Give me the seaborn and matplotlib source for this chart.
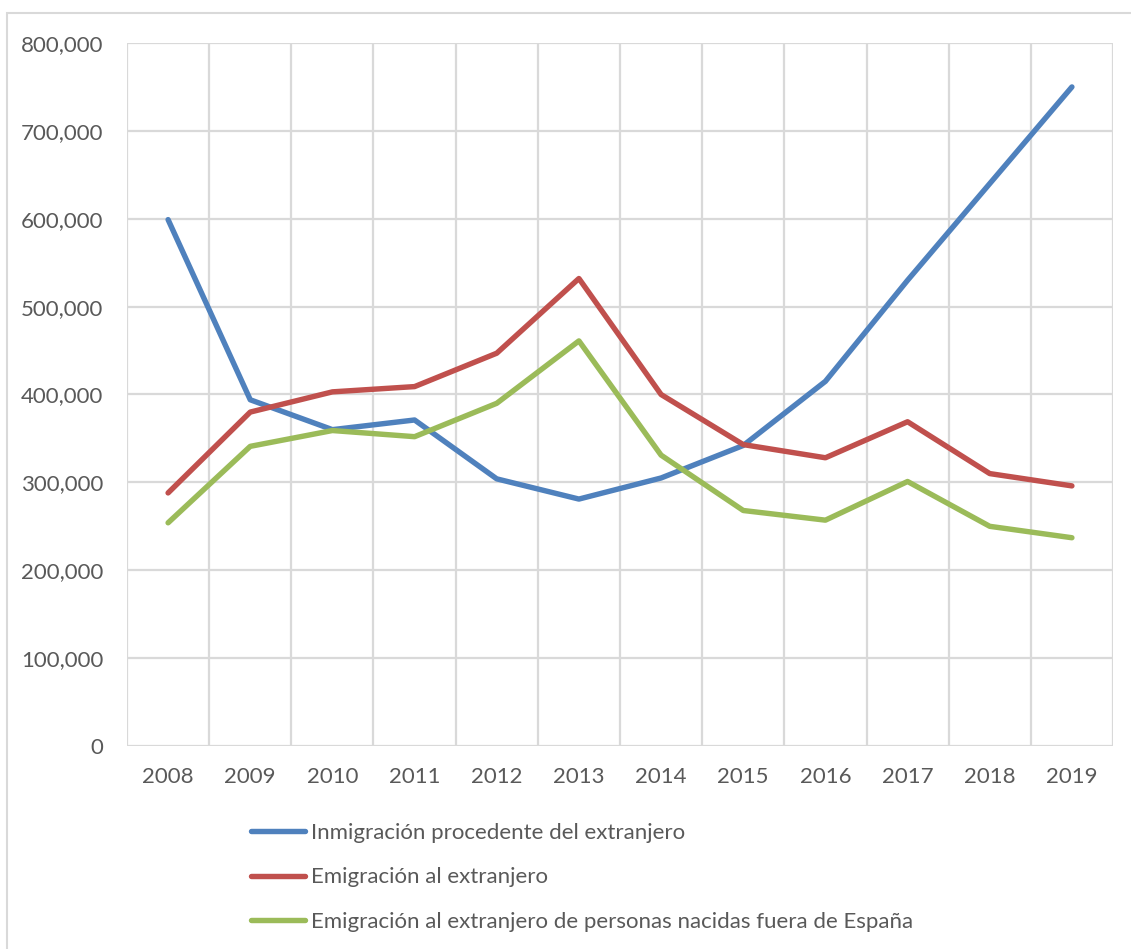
import matplotlib
matplotlib.use("Agg")
import matplotlib.pyplot as plt
import matplotlib.patches as mpatches
import seaborn as sns
import pandas as pd
import numpy as np

years = [2008, 2009, 2010, 2011, 2012, 2013, 2014, 2015, 2016, 2017, 2018, 2019]
inmigracion = [599000, 394000, 360000, 371000, 304000, 281000, 305000, 342000, 415000, 530000, 640000, 750000]
emigracion = [288000, 380000, 403000, 409000, 447000, 532000, 400000, 343000, 328000, 369000, 310000, 296000]
emigracion_nacidos_fuera = [254000, 341000, 359000, 352000, 390000, 461000, 331000, 268000, 257000, 301000, 250000, 237000]

series_names = [
    "Inmigración procedente del extranjero",
    "Emigración al extranjero",
    "Emigración al extranjero de personas nacidas fuera de España",
]
colors = ["#4F81BD", "#C0504D", "#9BBB59"]

rows = []
for name, vals in zip(series_names, [inmigracion, emigracion, emigracion_nacidos_fuera]):
    for i, (yr, v) in enumerate(zip(years, vals)):
        rows.append({"pos": i, "year": yr, "value": v, "serie": name})
df = pd.DataFrame(rows)

sns.set_theme(style="white")
plt.rcParams["font.family"] = ["Lato", "DejaVu Sans"]
text_color = "#595959"
grid_color = "#D9D9D9"
font_size = 16

fig = plt.figure(figsize=(11.31, 9.49), dpi=100)
W, H = 1131, 949
ax = fig.add_axes([127 / W, 1 - 746 / H, (1113 - 127) / W, (746 - 43) / H])

# outer chart border
fig.patches.append(mpatches.Rectangle((7 / W, -0.01), 1.02, 1 - 13 / H + 0.01,
                                      transform=fig.transFigure, fill=False,
                                      edgecolor=grid_color, linewidth=1.5, zorder=0))

sns.lineplot(data=df, x="pos", y="value", hue="serie", palette=colors,
             hue_order=series_names, linewidth=3.9, ax=ax, legend=False,
             solid_capstyle="round", zorder=3)

ax.set_xlim(-0.5, len(years) - 0.5)
ax.set_ylim(0, 800000)
ax.set_yticks(np.arange(0, 800001, 100000))
ax.set_yticklabels([f"{int(v):,}" if v > 0 else "0" for v in np.arange(0, 800001, 100000)])
ax.set_xticks(range(len(years)))
ax.set_xticklabels([str(y) for y in years])
ax.set_xticks(np.arange(-0.5, len(years)), minor=True)
ax.grid(True, axis="y", which="major", color=grid_color, linewidth=1.6)
ax.grid(True, axis="x", which="minor", color=grid_color, linewidth=1.6)
ax.grid(False, axis="x", which="major")
ax.set_axisbelow(True)
for s in ax.spines.values():
    s.set_visible(False)
ax.tick_params(axis="both", which="both", length=0, labelsize=font_size, colors=text_color)
ax.tick_params(axis="y", pad=17)
ax.tick_params(axis="x", pad=15)
ax.set_xlabel("")
ax.set_ylabel("")

handles = [plt.Line2D([0], [0], color=c, linewidth=3.9, solid_capstyle="round") for c in colors]
leg = fig.legend(handles, series_names, loc="upper left",
                 bbox_to_anchor=(242 / W, 1 - 814 / H), frameon=False,
                 fontsize=font_size, handlelength=2.45, handletextpad=0.25,
                 labelspacing=1.1, borderaxespad=0)
for t in leg.get_texts():
    t.set_color(text_color)

fig.savefig("out.png", dpi=100, facecolor="white")
